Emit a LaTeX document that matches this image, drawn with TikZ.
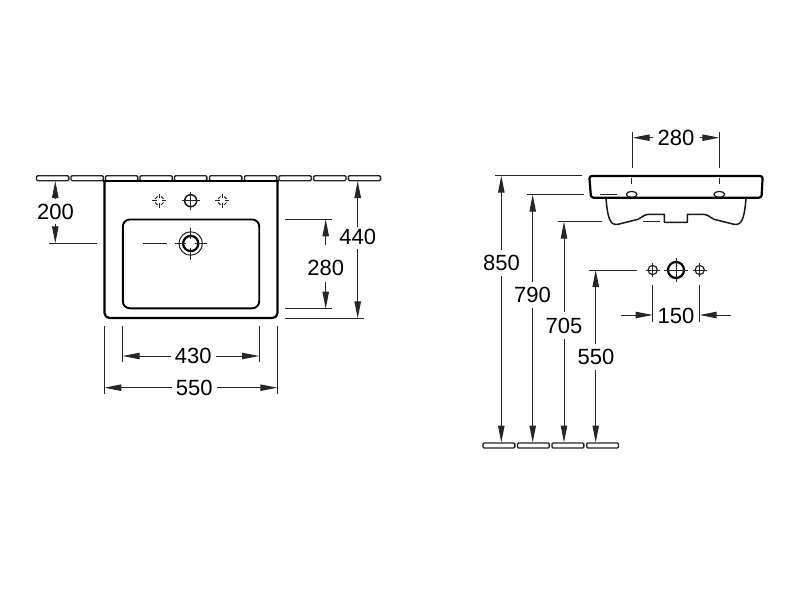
\documentclass[tikz,border=0pt]{standalone}
\usepackage{fontspec}
\setmainfont{Liberation Sans}
\usetikzlibrary{arrows.meta}
\tikzset{
  thin line/.style={line width=1pt,draw=black!85},
  dimhead/.style={thin line,-{Triangle[length=17pt,width=6.4pt]}},
  heavy/.style={line width=2.2pt,draw=black,line join=round},
  medium/.style={line width=1.5pt,draw=black!90,line join=round},
  tile/.style={line width=1.4pt,draw=black!85,rounded corners=1.2pt},
  lbl/.style={font=\fontsize{22}{24}\selectfont,inner sep=0pt,text=black},
}
\newcommand{\tilebox}[3]{\draw[tile] (#1,#2) rectangle ++(#3,5);}
\begin{document}
\begin{tikzpicture}[x=1pt,y=-1pt]
\useasboundingbox (0,0) rectangle (800,600);
\fill[white] (0,0) rectangle (800,600);
% wall tiles, front view
\foreach \x in {36.5,71,105.5,140,174.5,209.5,244.5,279,313.7,348.3} {\tilebox{\x}{175.7}{32.3}}
% basin front view
\draw[heavy,rounded corners=5pt] (104.5,181) -- (104.5,318) -- (277.5,318) -- (277.5,181);
\draw[heavy] (103.4,181) -- (278.6,181);
\draw[heavy,line width=1.9pt,rounded corners=7pt] (122.8,219.5) rectangle (259.2,308.3);
% tap holes, front view
\foreach \x in {159.3,222.3} {
  \draw[thin line] (\x-7,200.7) -- (\x-2.5,200.7) (\x+2.5,200.7) -- (\x+7,200.7) (\x,193.7) -- (\x,198.2) (\x,203.2) -- (\x,207.7);
  \foreach \a in {45,135,225,315} {\draw[thin line] ([shift={(\a-22:4.6)}]\x,200.7) arc[start angle=\a-22,end angle=\a+22,radius=4.6];}
}
\draw[medium] (190.7,200.7) circle (6);
\draw[thin line] (181.7,200.7) -- (199.7,200.7) (190.7,191.7) -- (190.7,209.7);
% drain
\draw[thin line] (190.7,243.5) circle (11.7);
\draw[heavy] (190.7,243.5) circle (7.6);
\draw[thin line] (174.7,243.5) -- (186,243.5) (195.4,243.5) -- (206.7,243.5) (190.7,227.5) -- (190.7,238.8) (190.7,248.2) -- (190.7,259.5);
% labels
\node[lbl] (t200) at (55.5,211.7) {200};
\node[lbl] (t280a) at (325.7,268.3) {280};
\node[lbl] (t440) at (357.7,236.7) {440};
\node[lbl] (t430) at (193.3,356.2) {430};
\node[lbl] (t550) at (194.3,388) {550};
\node[lbl] (t280b) at (676,138) {280};
\node[lbl] (t150) at (676,316) {150};
\node[lbl] (t850) at (501.5,263) {850};
\node[lbl] (t790) at (532.5,295) {790};
\node[lbl] (t705) at (564,325.5) {705};
\node[lbl] (t550b) at (596,357) {550};
% front view dimension 200
\draw[dimhead] (55.3,198) -- (55.3,181);
\draw[dimhead] (55.3,224) -- (55.3,243.3);
\draw[thin line] (49,243.3) -- (96.7,243.3) (142.7,243.3) -- (167.3,243.3);
% 280 vertical
\draw[thin line] (285.3,219.3) -- (332.3,219.3) (285.3,308.7) -- (332.3,308.7);
\draw[dimhead] (325.7,245) -- (325.7,219.3);
\draw[dimhead] (325.7,281.7) -- (325.7,308.7);
% 440
\draw[dimhead] (357.7,226.7) -- (357.7,181);
\draw[dimhead] (357.7,249) -- (357.7,318.3);
\draw[thin line] (285.3,318.3) -- (364,318.3);
% 430
\draw[thin line] (122.7,326) -- (122.7,362.3) (259,326) -- (259,362.3);
\draw[dimhead] (171,356) -- (122.7,356);
\draw[dimhead] (215.7,356) -- (259,356);
% 550
\draw[thin line] (104.3,326) -- (104.3,394) (277.3,326) -- (277.3,394);
\draw[dimhead] (172,387.7) -- (104.3,387.7);
\draw[dimhead] (216.7,387.7) -- (277.3,387.7);
% side view
\draw[heavy,rounded corners=2.5pt] (589.3,176) -- (591,197.7) -- (761.5,197.7) -- (762.7,176) -- cycle;
\draw[medium] (606,198) .. controls (606.5,205) and (607.5,215) .. (610,220) .. controls (611.5,223.5) and (614,225) .. (618,224.3) -- (638,219.3) .. controls (642,217.5) and (644,214.3) .. (649,214.3) -- (664.3,214.3) -- (664.3,222.3) -- (687.3,222.3) -- (687.3,214.3) -- (703,214.3) .. controls (708,214.3) and (710,217.5) .. (714,219.3) -- (734,224.3) .. controls (738,225) and (740.5,223.5) .. (742,220) .. controls (744.5,215) and (745.5,205) .. (746,198);
\foreach \x in {631.7,719.3} {
  \draw[medium,line width=1.2pt] (\x,194.4) ellipse (5.4 and 3);
  \draw[thin line] (\x,178.3) -- (\x,184.3);
}
\draw[thin line] (632.7,131.7) -- (632.7,168.3) (719.3,131.7) -- (719.3,168.3);
\draw[dimhead] (653.3,137.7) -- (632.7,137.7);
\draw[dimhead] (700,137.7) -- (719.3,137.7);
% height extension lines
\draw[thin line] (495,175.7) -- (581.7,175.7);
\draw[thin line] (526.7,194.7) -- (583.7,194.7) (600,194.5) -- (616.7,194.5);
\draw[thin line] (557.7,221.7) -- (602,221.7) (643.3,221.7) -- (660,221.7);
\draw[thin line] (589.3,270) -- (637.3,270);
% holes below
\foreach \x in {652.7,699.7} {
  \draw[thin line,line width=1.2pt] (\x,270) circle (4.6);
  \draw[thin line] (\x-7,270) -- (\x+7,270) (\x,263) -- (\x,277);
}
\draw[heavy] (676,270) circle (8);
\draw[thin line] (664,270) -- (688,270) (676,258) -- (676,282);
% 150
\draw[thin line] (652.7,285) -- (652.7,321.7) (699.7,285) -- (699.7,321.7);
\draw[dimhead] (621,315) -- (652.7,315);
\draw[dimhead] (731,315) -- (699.7,315);
% vertical heights
\draw[dimhead] (501.3,250) -- (501.3,175.7);
\draw[dimhead] (501.3,276) -- (501.3,442.5);
\draw[dimhead] (532.7,282) -- (532.7,194.7);
\draw[dimhead] (532.7,308) -- (532.7,442.5);
\draw[dimhead] (564,312) -- (564,221.7);
\draw[dimhead] (564,339) -- (564,442.5);
\draw[dimhead] (595.7,344) -- (595.7,270);
\draw[dimhead] (595.7,370) -- (595.7,442.5);
% floor tiles
\foreach \x in {483,517.5,552,586.7} {\tilebox{\x}{443}{31.8}}
\end{tikzpicture}
\end{document}
